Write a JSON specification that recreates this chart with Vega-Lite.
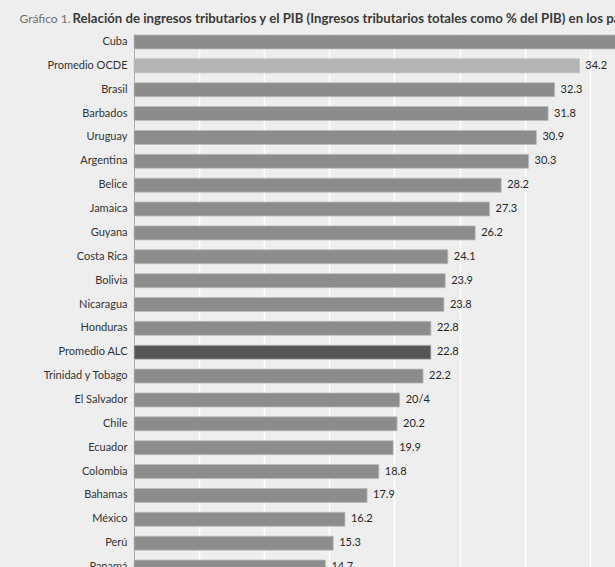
{
  "$schema": "https://vega.github.io/schema/vega-lite/v6.json",
  "background": "#eeeeee",
  "padding": {"left": 19, "top": 11, "right": 0, "bottom": 0},
  "width": 586,
  "height": 541,
  "data": {
    "values": [
      {"pais": "Cuba", "valor": 42.0, "etiqueta": "42.0", "grupo": "país"},
      {"pais": "Promedio OCDE", "valor": 34.2, "etiqueta": "34.2", "grupo": "OCDE"},
      {"pais": "Brasil", "valor": 32.3, "etiqueta": "32.3", "grupo": "país"},
      {"pais": "Barbados", "valor": 31.8, "etiqueta": "31.8", "grupo": "país"},
      {"pais": "Uruguay", "valor": 30.9, "etiqueta": "30.9", "grupo": "país"},
      {"pais": "Argentina", "valor": 30.3, "etiqueta": "30.3", "grupo": "país"},
      {"pais": "Belice", "valor": 28.2, "etiqueta": "28.2", "grupo": "país"},
      {"pais": "Jamaica", "valor": 27.3, "etiqueta": "27.3", "grupo": "país"},
      {"pais": "Guyana", "valor": 26.2, "etiqueta": "26.2", "grupo": "país"},
      {"pais": "Costa Rica", "valor": 24.1, "etiqueta": "24.1", "grupo": "país"},
      {"pais": "Bolivia", "valor": 23.9, "etiqueta": "23.9", "grupo": "país"},
      {"pais": "Nicaragua", "valor": 23.8, "etiqueta": "23.8", "grupo": "país"},
      {"pais": "Honduras", "valor": 22.8, "etiqueta": "22.8", "grupo": "país"},
      {"pais": "Promedio ALC", "valor": 22.8, "etiqueta": "22.8", "grupo": "ALC"},
      {"pais": "Trinidad y Tobago", "valor": 22.2, "etiqueta": "22.2", "grupo": "país"},
      {"pais": "El Salvador", "valor": 20.4, "etiqueta": "20/4", "grupo": "país"},
      {"pais": "Chile", "valor": 20.2, "etiqueta": "20.2", "grupo": "país"},
      {"pais": "Ecuador", "valor": 19.9, "etiqueta": "19.9", "grupo": "país"},
      {"pais": "Colombia", "valor": 18.8, "etiqueta": "18.8", "grupo": "país"},
      {"pais": "Bahamas", "valor": 17.9, "etiqueta": "17.9", "grupo": "país"},
      {"pais": "México", "valor": 16.2, "etiqueta": "16.2", "grupo": "país"},
      {"pais": "Perú", "valor": 15.3, "etiqueta": "15.3", "grupo": "país"},
      {"pais": "Panamá", "valor": 14.7, "etiqueta": "14.7", "grupo": "país"}
    ]
  },
  "encoding": {
    "y": {
      "field": "pais",
      "type": "nominal",
      "sort": null,
      "scale": {"paddingInner": 0.413, "paddingOuter": 0.04},
      "axis": {
        "title": "Gráfico 1.",
        "titleAngle": 0,
        "titleAlign": "left",
        "titleBaseline": "bottom",
        "titleX": -115,
        "titleY": -9,
        "titleFont": "Lato",
        "titleFontSize": 12,
        "titleFontWeight": "normal",
        "titleColor": "#707070",
        "labelFont": "Lato",
        "labelFontSize": 11,
        "labelColor": "#333333",
        "labelPadding": 7,
        "ticks": false,
        "domainColor": "#a8a8a8",
        "domainWidth": 1,
        "grid": false
      }
    }
  },
  "layer": [
    {
      "mark": {"type": "bar", "stroke": "#bdbdbd", "strokeWidth": 0.8},
      "encoding": {
        "x": {
          "field": "valor",
          "type": "quantitative",
          "scale": {"domain": [0, 45], "nice": false},
          "axis": {
            "orient": "top",
            "title": "Relación de ingresos tributarios y el PIB (Ingresos tributarios totales como % del PIB) en los países de ALC",
            "titleAngle": 0,
            "titleAlign": "left",
            "titleBaseline": "bottom",
            "titleX": -62,
            "titleY": -9,
            "titleFont": "Lato",
            "titleFontSize": 13.2,
            "titleFontWeight": "bold",
            "titleColor": "#3a3a3a",
            "values": [0, 5, 10, 15, 20, 25, 30, 35, 40, 45],
            "labels": false,
            "ticks": false,
            "domain": false,
            "grid": true,
            "gridColor": "#ffffff",
            "gridWidth": 1.5
          }
        },
        "color": {
          "field": "grupo",
          "type": "nominal",
          "scale": {"domain": ["país", "OCDE", "ALC"], "range": ["#8c8c8c", "#b4b4b4", "#565656"]},
          "legend": null
        }
      }
    },
    {
      "mark": {"type": "text", "align": "left", "baseline": "middle", "dx": 6, "font": "Lato", "fontSize": 11, "color": "#262626"},
      "encoding": {
        "x": {"field": "valor", "type": "quantitative"},
        "text": {"field": "etiqueta", "type": "nominal"}
      }
    }
  ],
  "config": {
    "view": {"stroke": null, "fill": "#eeeeee"}
  }
}
